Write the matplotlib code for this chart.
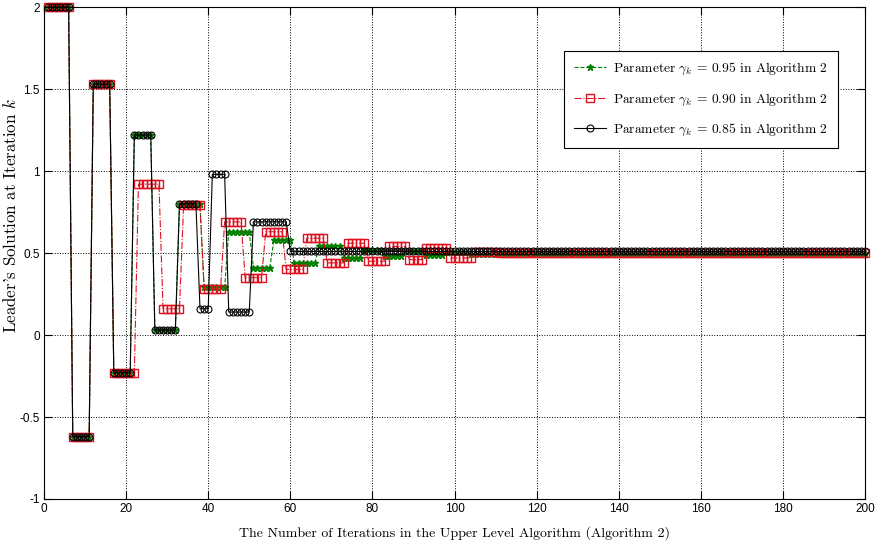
import numpy as np
import matplotlib.pyplot as plt

plt.rcParams['mathtext.fontset'] = 'cm'
plt.rcParams['axes.unicode_minus'] = False

# plateau values and how many iterations each one is held
green_vals = [2.0, -0.62, 1.53, -0.23, 1.22, 0.03, 0.80, 0.29, 0.63, 0.41, 0.58,
              0.44, 0.54, 0.47, 0.52, 0.48, 0.515, 0.49, 0.505, 0.495, 0.50]
green_lens = [6, 5, 5, 5, 5, 6, 6, 6, 6, 5, 5, 6, 6, 5, 5, 5, 5, 5, 6, 7, 90]

red_vals = [2.0, -0.62, 1.53, -0.23, 0.92, 0.16, 0.79, 0.28, 0.69, 0.35, 0.63,
            0.40, 0.59, 0.44, 0.56, 0.45, 0.54, 0.46, 0.53, 0.47, 0.505, 0.50]
red_lens = [6, 5, 5, 6, 6, 5, 5, 5, 5, 5, 5, 5, 5, 5, 5, 5, 5, 4, 6, 6, 6, 90]

black_vals = [2.0, -0.62, 1.53, -0.23, 1.22, 0.03, 0.80, 0.16, 0.98, 0.14, 0.69, 0.51]
black_lens = [6, 5, 5, 5, 5, 6, 5, 3, 4, 6, 9, 141]

labels = [r'Parameter $\gamma_k$ = 0.95 in Algorithm 2',
          r'Parameter $\gamma_k$ = 0.90 in Algorithm 2',
          r'Parameter $\gamma_k$ = 0.85 in Algorithm 2']

x = np.arange(1, 201)
y_green = np.repeat(green_vals, green_lens)[:200]
y_red = np.repeat(red_vals, red_lens)[:200]
y_black = np.repeat(black_vals, black_lens)[:200]

fig = plt.figure(figsize=(8.75, 5.46), dpi=100)
ax = fig.add_axes([0.0503, 0.0861, 0.9383, 0.9009])

ax.plot(x, y_green, '--', color='#008000', marker='*', markersize=5,
        linewidth=0.8, label=labels[0], clip_on=False)
ax.plot(x, y_red, '-.', color='#e01020', marker='s', markersize=5.5,
        markerfacecolor='none', linewidth=0.8, label=labels[1], clip_on=False)
ax.plot(x, y_black, '-', color='k', marker='o', markersize=5,
        markerfacecolor='none', markeredgewidth=0.8, linewidth=0.8,
        label=labels[2], clip_on=False)

ax.set_xlim(0, 200)
ax.set_ylim(-1, 2)
ax.set_xticks(np.arange(0, 201, 20))
ax.set_yticks(np.arange(-1, 2.01, 0.5))
ax.set_yticklabels(['-1', '-0.5', '0', '0.5', '1', '1.5', '2'])
ax.grid(True, linestyle=':', color='k', linewidth=0.7)
ax.tick_params(direction='in', top=True, right=True, length=6, width=0.8,
               labelsize=8.5, pad=3)
for lab in ax.get_xticklabels() + ax.get_yticklabels():
    lab.set_fontfamily('Liberation Sans')
for sp in ax.spines.values():
    sp.set_linewidth(0.8)

ax.set_xlabel('The Number of Iterations in the Upper Level Algorithm (Algorithm 2)',
              fontfamily='cmr10', fontsize=10)
ax.xaxis.set_label_coords(0.5, -0.055)
ax.set_ylabel("Leader's Solution at Iteration $k$", fontfamily='cmr10',
              fontsize=12.2)
ax.yaxis.set_label_coords(-0.031, 0.576)

leg = ax.legend(loc='upper right', bbox_to_anchor=(0.967, 0.911), fancybox=False,
                framealpha=1, edgecolor='k', prop={'family': 'cmr10', 'size': 9.7},
                handlelength=2.4, handletextpad=0.5, labelspacing=1.05,
                borderpad=0.75, borderaxespad=0)
leg.get_frame().set_linewidth(0.8)

fig.savefig('out.png', dpi=100)
